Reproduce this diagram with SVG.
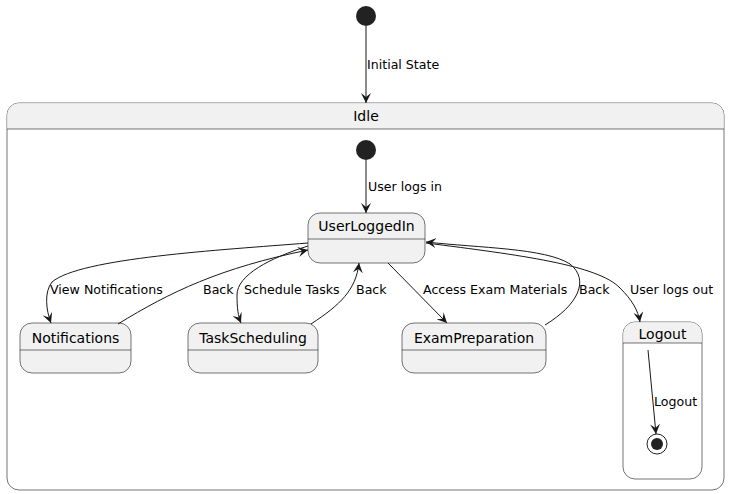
<svg xmlns="http://www.w3.org/2000/svg" width="730" height="494" viewBox="0 0 730 494">
<style>
.st{fill:#F1F1F1;stroke:#181818;stroke-width:0.6}
.cb{fill:#FFFFFF;stroke:#181818;stroke-width:0.6}
.hd{fill:#F1F1F1;stroke:none}
.sep{stroke:#181818;stroke-width:0.6}
.nm{font-family:"DejaVu Sans",sans-serif;font-size:14px;fill:#000;text-anchor:middle}
.lb{font-family:"DejaVu Sans",sans-serif;font-size:12.6px;fill:#000}
.ed{fill:none;stroke:#181818;stroke-width:1;marker-end:url(#ah)}
</style>
<defs>
<marker id="ah" viewBox="0 0 10 10" refX="10" refY="5" markerWidth="10" markerHeight="10" markerUnits="userSpaceOnUse" orient="auto">
<path d="M0,0 L10,5 L0,10 L4,5 Z" fill="#181818"/>
</marker>
</defs>
<rect width="730" height="494" fill="#FFFFFF"/>
<g id="start"><circle cx="366" cy="16" r="10" fill="#222222"/></g>
<g id="Idle">
<rect class="cb" x="7" y="103" width="717" height="387" rx="12" ry="12"/>
<path class="hd" d="M7.3,129 L7.3,115 A11.7,11.7 0 0 1 19,103.3 L712,103.3 A11.7,11.7 0 0 1 723.7,115 L723.7,129 Z"/>
<line class="sep" x1="7" y1="129" x2="724" y2="129"/>
<text class="nm" x="366" y="121">Idle</text>
</g>
<g id="innerStart"><circle cx="366" cy="150" r="10" fill="#222222"/></g>
<g id="UserLoggedIn">
<rect class="st" x="308" y="213" width="117" height="50" rx="12" ry="12"/>
<line class="sep" x1="308" y1="239" x2="425" y2="239"/>
<text class="nm" x="366.5" y="231">UserLoggedIn</text>
</g>
<g id="Notifications">
<rect class="st" x="20" y="323" width="111" height="50" rx="12" ry="12"/>
<line class="sep" x1="20" y1="350" x2="131" y2="350"/>
<text class="nm" x="75.5" y="343">Notifications</text>
</g>
<g id="TaskScheduling">
<rect class="st" x="188" y="323" width="130" height="50" rx="12" ry="12"/>
<line class="sep" x1="188" y1="350" x2="318" y2="350"/>
<text class="nm" x="253" y="343">TaskScheduling</text>
</g>
<g id="ExamPreparation">
<rect class="st" x="402" y="323" width="144" height="50" rx="12" ry="12"/>
<line class="sep" x1="402" y1="350" x2="546" y2="350"/>
<text class="nm" x="474" y="343">ExamPreparation</text>
</g>
<g id="Logout">
<rect class="cb" x="623" y="322" width="79" height="157" rx="12" ry="12"/>
<path class="hd" d="M623.3,343 L623.3,334 A11.7,11.7 0 0 1 635,322.3 L690,322.3 A11.7,11.7 0 0 1 701.7,334 L701.7,343 Z"/>
<line class="sep" x1="623" y1="343" x2="702" y2="343"/>
<text class="nm" x="662.5" y="339">Logout</text>
</g>
<g id="final">
<circle cx="657" cy="444" r="10" fill="none" stroke="#222222" stroke-width="1"/>
<circle cx="657" cy="444" r="6" fill="#222222"/>
</g>
<g id="connectors">
<path class="ed" d="M366,26 L366,103"/>
<text class="lb" x="367" y="69">Initial State</text>
<path class="ed" d="M366,160 L366,213"/>
<text class="lb" x="368" y="191">User logs in</text>
<path class="ed" d="M308,243 C220,250 80,258 52,282 C44,292 46,310 51,323"/>
<text class="lb" x="50" y="294">View Notifications</text>
<path class="ed" d="M118,324 C170,292 220,268 308,250"/>
<text class="lb" x="203" y="294">Back</text>
<path class="ed" d="M308,246 C270,258 237,275 237,295 C237,308 238,316 241,323"/>
<text class="lb" x="244" y="294">Schedule Tasks</text>
<path class="ed" d="M311,324 C340,305 356,290 359,263"/>
<text class="lb" x="356" y="294">Back</text>
<path class="ed" d="M388,263 L447,323"/>
<text class="lb" x="423" y="294">Access Exam Materials</text>
<path class="ed" d="M545,325 C578,305 590,280 570,264 C545,248 480,248 426,242"/>
<text class="lb" x="579" y="294">Back</text>
<path class="ed" d="M426,243 C520,255 598,265 620,288 C632,300 638,310 640,322"/>
<text class="lb" x="630" y="294">User logs out</text>
<path class="ed" d="M648,350 L656,434"/>
<text class="lb" x="654" y="406">Logout</text>
</g>
</svg>
